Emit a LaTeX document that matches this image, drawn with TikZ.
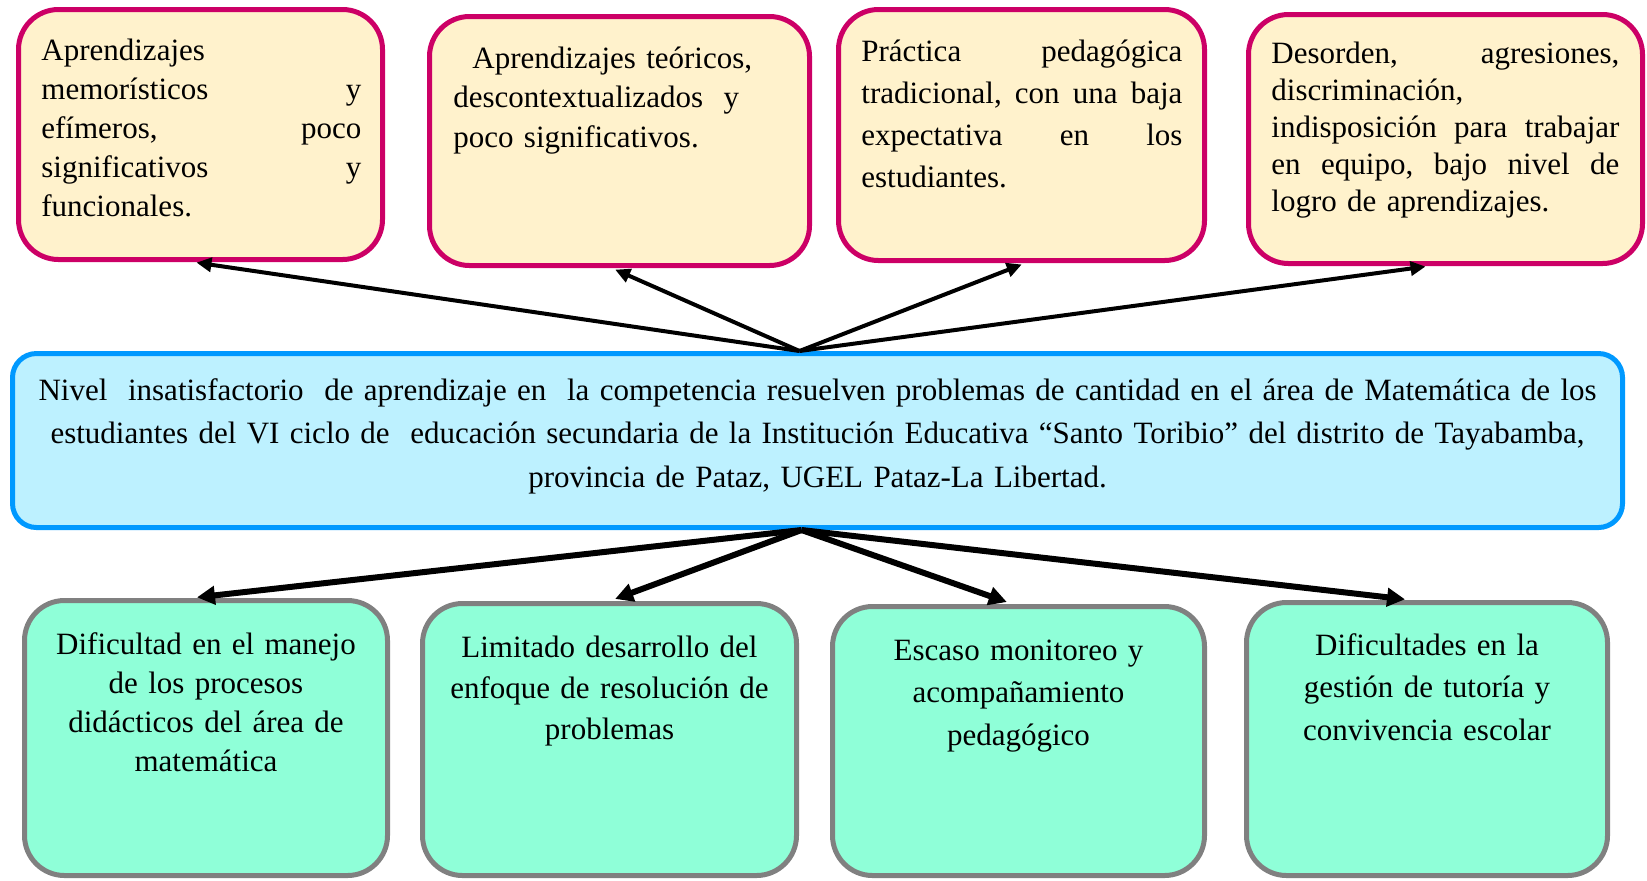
\documentclass[tikz,border=0pt]{standalone}
\usepackage{fontspec}
\setmainfont{Liberation Serif}
\usetikzlibrary{arrows.meta}

\definecolor{efectoborde}{RGB}{204,0,102}
\definecolor{efectofondo}{RGB}{255,242,204}
\definecolor{problemaborde}{RGB}{0,153,255}
\definecolor{problemafondo}{RGB}{189,241,255}
\definecolor{causaborde}{RGB}{128,128,128}
\definecolor{causafondo}{RGB}{143,255,216}

\begin{document}
\begin{tikzpicture}[x=0.5pt,y=-0.5pt,
    caja/.style={draw, line width=2.5pt, rounded corners=20pt, inner sep=0pt},
    efecto/.style={caja, draw=efectoborde, fill=efectofondo},
    problema/.style={caja, draw=problemaborde, fill=problemafondo, rounded corners=12pt},
    causa/.style={caja, draw=causaborde, fill=causafondo},
    texto/.style={inner sep=0pt, anchor=base west, font=\fontsize{15.5}{#1}\selectfont},
    textoc/.style={inner sep=0pt, anchor=base, align=center, font=\fontsize{15.5}{#1}\selectfont},
    flecha/.style={-{Triangle[length=7.5pt,width=7pt]}, line width=2pt, shorten >=2pt},
    flechagruesa/.style={-{Triangle[length=9pt,width=9pt]}, line width=3pt, shorten >=3pt}]
    \useasboundingbox (0,0) rectangle (1647,880);

    \node[efecto, minimum width=182pt, minimum height=125pt] (e1) at (200.5,134.5) {};
    \node[efecto, minimum width=190pt, minimum height=124.5pt] (e2) at (619.5,141) {};
    \node[efecto, minimum width=183pt, minimum height=125.5pt] (e3) at (1021.5,135) {};
    \node[efecto, minimum width=197pt, minimum height=124.5pt] (e4) at (1445.5,139) {};

    \node[problema, minimum width=805pt, minimum height=87pt] (p) at (817.5,440.5) {};

    \node[causa, minimum width=181.5pt, minimum height=137.5pt] (c1) at (206,738) {};
    \node[causa, minimum width=187pt, minimum height=136pt] (c2) at (609.5,739.5) {};
    \node[causa, minimum width=186pt, minimum height=134.5pt] (c3) at (1018.5,741) {};
    \node[causa, minimum width=180.5pt, minimum height=136.5pt] (c4) at (1427,739) {};

    \node[texto=19.5pt, text width=160pt] (te1) at (41,60)
        {Aprendizajes\\ memorísticos\hfill y\\ efímeros,\hfill poco\\ significativos\hfill y\\ funcionales.};
    \node[texto=19.75pt, text width=165pt] (te2) at (453,68)
        {\hspace*{9.5pt}Aprendizajes teóricos,\\ descontextualizados\ \ y\\ poco significativos.};
    \node[texto=21pt, text width=160.5pt] (te3) at (861,61)
        {Práctica\hfill pedagógica\\ tradicional,\hfill con\hfill una\hfill baja\\ expectativa\hfill en\hfill los\\ estudiantes.};
    \node[texto=18.5pt, text width=174pt] (te4) at (1271,63)
        {Desorden,\hfill agresiones,\\ discriminación,\\ indisposición\hfill para\hfill trabajar\\ en\hfill equipo,\hfill bajo\hfill nivel\hfill de\\ logro de aprendizajes.};

    \node[textoc=21.75pt, text width=812pt] (tp) at (817.5,400)
        {Nivel\ \ insatisfactorio\ \ de aprendizaje en\ \ la competencia resuelven problemas de cantidad en el área de Matemática de los\\
         estudiantes del VI ciclo de\ \ educación secundaria de la Institución Educativa “Santo Toribio” del distrito de Tayabamba,\\
         provincia de Pataz, UGEL Pataz-La Libertad.};

    \node[textoc=19.5pt, text width=178pt] (tc1) at (206,654)
        {Dificultad en el manejo\\ de los procesos\\ didácticos del área de\\ matemática};
    \node[textoc=20.5pt, text width=184pt] (tc2) at (609.5,657)
        {Limitado desarrollo del\\ enfoque de resolución de\\ problemas};
    \node[textoc=21.25pt, text width=184pt] (tc3) at (1018.5,660)
        {Escaso monitoreo y\\ acompañamiento\\ pedagógico};
    \node[textoc=21.25pt, text width=178pt] (tc4) at (1427,655)
        {Dificultades en la\\ gestión de tutoría y\\ convivencia escolar};

    \coordinate (arriba) at ([xshift=-9pt]p.north);
    \coordinate (abajo) at ([xshift=-8pt]p.south);

    \draw[flecha] (arriba) -- ([xshift=-4pt]e1.south);
    \draw[flecha] (arriba) -- ([xshift=-4pt]e2.south);
    \draw[flecha] (arriba) -- ([xshift=2pt]e3.south);
    \draw[flecha] (arriba) -- ([xshift=-8pt]e4.south);

    \draw[flechagruesa] (abajo) -- ([xshift=-7.5pt]c1.north);
    \draw[flechagruesa] (abajo) -- (c2.north);
    \draw[flechagruesa] (abajo) -- ([xshift=-3pt]c3.north);
    \draw[flechagruesa] (abajo) -- ([xshift=-8pt]c4.north);
\end{tikzpicture}
\end{document}
